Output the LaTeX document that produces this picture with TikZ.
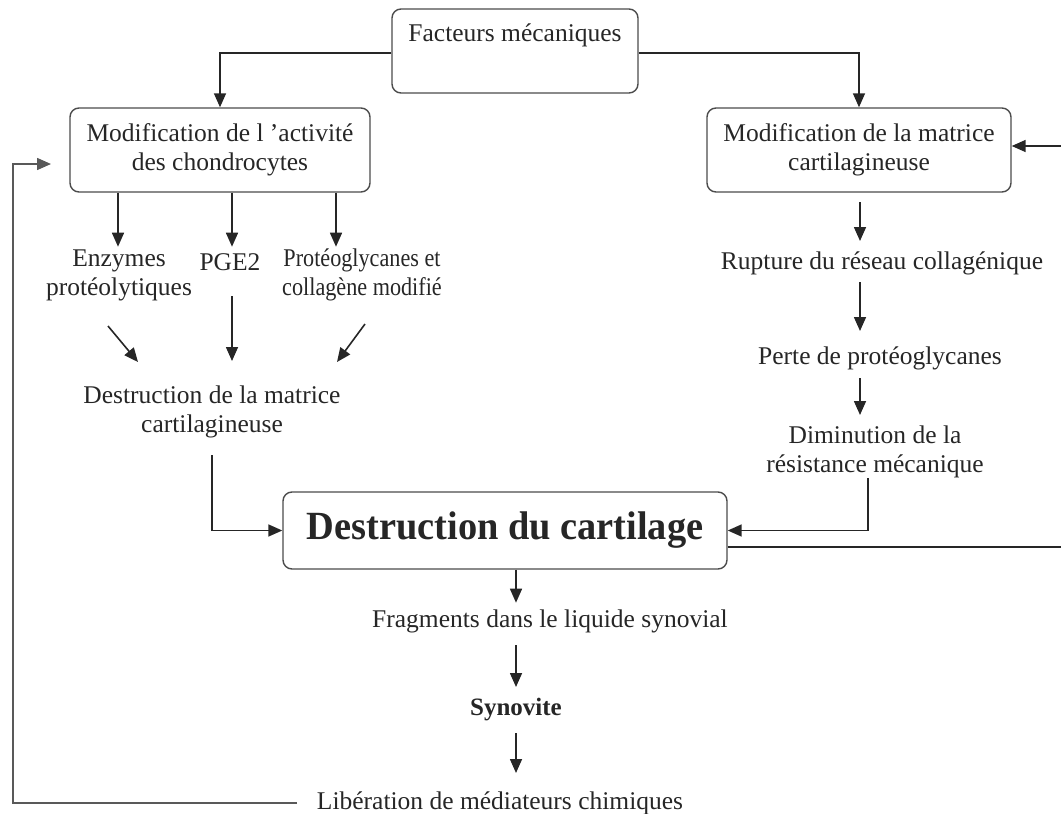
\documentclass[tikz,border=0pt]{standalone}
\usepackage{fontspec}
\setmainfont{Liberation Serif}
\usetikzlibrary{arrows.meta,calc}
\begin{document}
\begin{tikzpicture}[x=1pt,y=-1pt,
  every node/.style={font=\fontsize{25.5}{29}\selectfont, inner sep=0pt, align=center, text=black!85},
  box/.style={draw=black!70, line width=1.4pt, rounded corners=9pt},
  arr/.style={draw=black!85, line width=1.6pt, -{Triangle[length=14pt,width=12pt]}},
  ln/.style={draw=black!85, line width=1.6pt},
  big/.style={font=\fontsize{40}{46}\selectfont\bfseries},
  boldtxt/.style={font=\fontsize{25}{29}\selectfont\bfseries}]
\useasboundingbox (0,0) rectangle (1061,814);

% boxes
\node[box, minimum width=246pt, minimum height=84pt] (fm) at (515,51) {};
\node (fmt) at (515,35) {Facteurs mécaniques};
\node[box, minimum width=300pt, minimum height=84pt] (mca) at (220,150) {Modification de l ’activité\\des chondrocytes};
\node[box, minimum width=304pt, minimum height=84pt] (mcm) at (859,150) {Modification de la matrice\\cartilagineuse};
\node[box, big, minimum width=444pt, minimum height=77pt] (dc) at (505,530.5) {\scalebox{0.96}[1]{Destruction du cartilage}};

% left column texts
\node (enz) at (119,275) {Enzymes\\protéolytiques};
\node (pge) at (230,262) {PGE2};
\node (prot) at (362,275) {\scalebox{0.87}[1]{\begin{tabular}{@{}c@{}}Protéoglycanes et\\collagène modifié\end{tabular}}};
\node (dmc) at (212,412) {Destruction de la matrice\\cartilagineuse};

% right column texts
\node (rup) at (882,263) {Rupture du réseau collagénique};
\node (perte) at (880,358) {Perte de protéoglycanes};
\node (dim) at (875,452) {Diminution de la\\résistance mécanique};

% bottom texts
\node (frag) at (550,621) {Fragments dans le liquide synovial};
\node[boldtxt] (syn) at (516,710) {Synovite};
\node (lib) at (500,803) {Libération de médiateurs chimiques};

% coordinates
\coordinate (d1s) at (108,326); \coordinate (d1e) at (138,362);
\coordinate (d2s) at (232,296); \coordinate (d2e) at (232,361);
\coordinate (d3s) at (365,324); \coordinate (d3e) at (337,362);
\coordinate (dmcb) at (212,455);
\coordinate (dimb) at (868,478);
\coordinate (rx) at (1061,547);
\coordinate (rin) at (1061,146);
\coordinate (r1s) at (860,202); \coordinate (r1e) at (860,241);
\coordinate (r2s) at (860,282); \coordinate (r2e) at (860,331);
\coordinate (r3s) at (860,378); \coordinate (r3e) at (860,415);
\coordinate (b2s) at (516,645); \coordinate (b2e) at (516,687);
\coordinate (b3s) at (516,733); \coordinate (b3e) at (516,773);
\coordinate (fb0) at (297,803); \coordinate (fb1) at (13,803);
\coordinate (fb2) at (13,164); \coordinate (fb3) at (51,164);
\coordinate (a1) at (118,0); \coordinate (a2) at (232,0); \coordinate (a3) at (336,0);

% connectors
\draw[arr] ([yshift=-2pt]fm.west) -| (mca.north);
\draw[arr] ([yshift=-2pt]fm.east) -| (mcm.north);
\draw[arr] (mca.south -| a1) -- ++(0,54);
\draw[arr] (mca.south -| a2) -- ++(0,54);
\draw[arr] (mca.south -| a3) -- ++(0,54);
\draw[arr] (d1s) -- (d1e);
\draw[arr] (d2s) -- (d2e);
\draw[arr] (d3s) -- (d3e);
\draw[arr] (dmcb) |- (dc.west);
\draw[arr] (rin) -- (rin -| mcm.east);
\draw[arr] (r1s) -- (r1e);
\draw[arr] (r2s) -- (r2e);
\draw[arr] (r3s) -- (r3e);
\draw[arr] (dimb) |- (dc.east);
\draw[ln] (dc.east |- rx) -- (rx);
\draw[arr] (dc.south -| syn) -- ++(0,33);
\draw[arr] (b2s) -- (b2e);
\draw[arr] (b3s) -- (b3e);
\draw[arr, draw=black!65] (fb0) -- (fb1) -- (fb2) -- (fb3);
\end{tikzpicture}
\end{document}
